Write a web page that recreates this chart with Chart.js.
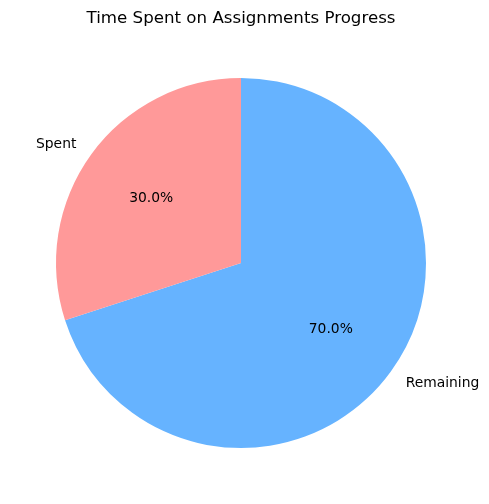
<!DOCTYPE html>
<html>
<head>
<meta charset="utf-8">
<script src="https://cdn.jsdelivr.net/npm/chart.js@4/dist/chart.umd.min.js"></script>
<style>
html,body{margin:0;padding:0;background:#fff;}
canvas{display:block;}
</style>
</head>
<body>
<canvas id="c" width="489" height="504"></canvas>
<script>
// Data (drawn clockwise from top, so Remaining first, Spent second)
const categories = ["Remaining", "Spent"];
const values = [70, 30];
const colors = ["#66b3ff", "#ff9999"];
const titleText = "Time Spent on Assignments Progress";

const FONT = "'DejaVu Sans', sans-serif";

const labelPlugin = {
  id: 'mplLabels',
  afterDraw(chart) {
    const ctx = chart.ctx;
    const meta = chart.getDatasetMeta(0);
    const total = values.reduce((a, b) => a + b, 0);
    ctx.save();
    ctx.fillStyle = '#000';
    // title
    ctx.font = '16.67px ' + FONT;
    ctx.textAlign = 'center';
    ctx.textBaseline = 'middle';
    ctx.fillText(titleText, (chart.chartArea.left + chart.chartArea.right) / 2, 18.5);
    ctx.font = '13.89px ' + FONT;
    meta.data.forEach((arc, i) => {
      const p = arc.getProps(['x', 'y', 'startAngle', 'endAngle', 'outerRadius'], true);
      const mid = (p.startAngle + p.endAngle) / 2;
      const c = Math.cos(mid), s = Math.sin(mid);
      // outer category label
      const lx = p.x + 1.1 * p.outerRadius * c;
      const ly = p.y + 1.1 * p.outerRadius * s + 1;
      ctx.textAlign = c >= 0 ? 'left' : 'right';
      ctx.textBaseline = 'middle';
      ctx.fillText(categories[i], lx, ly);
      // percentage label
      const px = p.x + 0.6 * p.outerRadius * c;
      const py = p.y + 0.6 * p.outerRadius * s + 1;
      ctx.textAlign = 'center';
      ctx.fillText((values[i] / total * 100).toFixed(1) + '%', px, py);
    });
    ctx.restore();
  }
};

new Chart(document.getElementById('c'), {
  type: 'pie',
  data: {
    labels: categories,
    datasets: [{
      data: values,
      backgroundColor: colors,
      borderWidth: 0,
      hoverOffset: 0
    }]
  },
  options: {
    responsive: false,
    animation: false,
    rotation: 0,
    layout: { padding: { left: 56, right: 63, top: 78, bottom: 56 } },
    plugins: {
      legend: { display: false },
      title: { display: false },
      tooltip: { enabled: false }
    }
  },
  plugins: [labelPlugin]
});
</script>
</body>
</html>
